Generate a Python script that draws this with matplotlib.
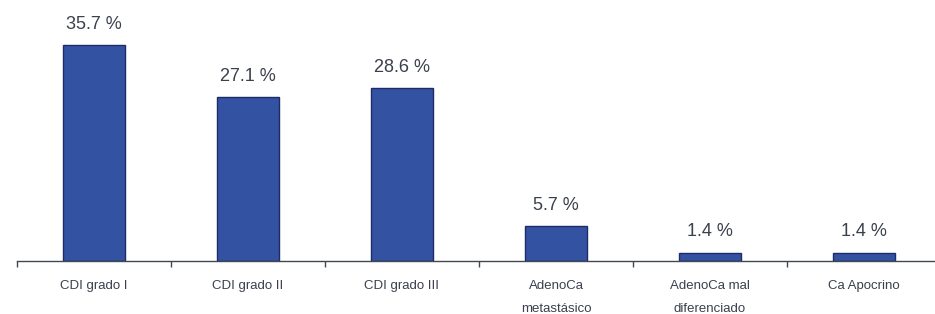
import matplotlib.pyplot as plt
import numpy as np

# data
categories = ['CDI grado I', 'CDI grado II', 'CDI grado III',
              'AdenoCa\nmetastásico', 'AdenoCa mal\ndiferenciado', 'Ca Apocrino']
values = [35.7, 27.1, 28.6, 5.7, 1.4, 1.4]
labels = ['35.7 %', '27.1 %', '28.6 %', '5.7 %', '1.4 %', '1.4 %']

plt.rcParams['font.family'] = ['Liberation Sans', 'DejaVu Sans']

fig = plt.figure(figsize=(9.35, 3.14), dpi=100)
ax = fig.add_axes([17/935, 1 - 261/314, 924/935, 261/314])

x = np.arange(len(categories))
ax.bar(x, values, width=0.4, color='#3452a2', edgecolor='#1d2c66', linewidth=1)

for xi, v, lab in zip(x, values, labels):
    ax.text(xi, v + 2.0, lab, ha='center', va='bottom', fontsize=13, color='#3a404c')

ax.set_xlim(-0.5, 5.5)
ax.set_ylim(0, 43.1)

for s in ['top', 'right', 'left']:
    ax.spines[s].set_visible(False)
ax.spines['bottom'].set_color('#404850')
ax.spines['bottom'].set_linewidth(1.0)

ax.set_yticks([])
ax.set_xticks(x)
ax.set_xticklabels(categories, fontsize=9.5, color='#3a404c', linespacing=2.2)
ax.tick_params(axis='x', which='major', length=0, pad=14)
ax.set_xticks(np.arange(-0.5, 5.6, 1), minor=True)
ax.tick_params(axis='x', which='minor', length=4, width=1, color='#404850', direction='out')

fig.savefig('out.png', dpi=100)
